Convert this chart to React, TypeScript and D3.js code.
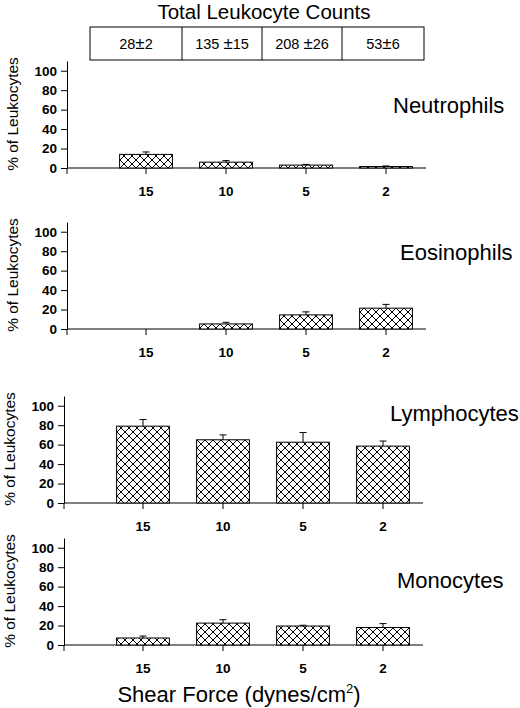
import React, { useEffect, useRef } from 'react';
import * as d3 from 'd3';

const shearForces = ['15', '10', '5', '2'];
const totalCounts = ['28', '135', '208', '53'];
const totalCountErrors = ['2', '15', '26', '6'];

const neutrophils = [14, 6, 3, 1.5];
const neutrophilErrors = [2.5, 1.6, 0.7, 0.6];
const eosinophils = [0, 5.2, 14.5, 21.4];
const eosinophilErrors = [0, 1.7, 3.1, 3.9];
const lymphocytes = [79, 65, 62.5, 58.5];
const lymphocyteErrors = [6.8, 5, 10, 5.2];
const monocytes = [7.2, 22.5, 19.5, 18];
const monocyteErrors = [2, 3.5, 0.8, 4];

const yTicks = [0, 20, 40, 60, 80, 100];

const FONT = '"Liberation Sans", Arial, Helvetica, sans-serif';

const App: React.FC = () => {
  const ref = useRef<SVGSVGElement | null>(null);

  useEffect(() => {
    const svg = d3.select(ref.current);
    svg.selectAll('*').remove();

    const width = 520;
    const height = 708;
    svg.attr('width', width).attr('height', height);

    // cross hatch used by all bars
    const pattern = svg
      .append('defs')
      .append('pattern')
      .attr('id', 'xhatch')
      .attr('patternUnits', 'userSpaceOnUse')
      .attr('width', 8)
      .attr('height', 8);
    pattern.append('rect').attr('width', 8).attr('height', 8).attr('fill', '#fff');
    pattern
      .append('path')
      .attr('d', 'M0,0L8,8M8,0L0,8')
      .attr('stroke', '#000')
      .attr('stroke-width', 1);

    const axisX = 67;
    const x = d3
      .scaleBand()
      .domain(shearForces)
      .range([106, 426])
      .paddingInner(0.34)
      .paddingOuter(0.17);
    const centre = (d: string) => (x(d) || 0) + x.bandwidth() / 2;

    // title + table of total counts
    svg
      .append('text')
      .attr('x', 264)
      .attr('y', 19)
      .attr('text-anchor', 'middle')
      .attr('font-family', FONT)
      .attr('font-size', 20.5)
      .text('Total Leukocyte Counts');

    const edges = [
      x.range()[0] - 16,
      ...shearForces.slice(1).map((d, i) => (centre(shearForces[i]) + centre(d)) / 2 - 4),
      x.range()[1] - 2,
    ];
    const table = svg.append('g');
    table
      .append('rect')
      .attr('x', edges[0])
      .attr('y', 27)
      .attr('width', edges[edges.length - 1] - edges[0])
      .attr('height', 33)
      .attr('fill', 'none')
      .attr('stroke', '#000');
    edges.slice(1, -1).forEach((e) => {
      table.append('line').attr('x1', e).attr('x2', e).attr('y1', 27).attr('y2', 60).attr('stroke', '#000');
    });
    totalCounts.forEach((c, i) => {
      const t = table
        .append('text')
        .attr('x', (edges[i] + edges[i + 1]) / 2)
        .attr('y', 49)
        .attr('text-anchor', 'middle')
        .attr('font-family', FONT)
        .attr('font-size', 14.5);
      t.append('tspan').text(`${c}${c.length > 2 ? ' ' : ''}`);
      t.append('tspan').attr('font-size', 17).text('±');
      t.append('tspan').text(totalCountErrors[i]);
    });

    const panels = [
      { name: 'Neutrophils', values: neutrophils, errors: neutrophilErrors, zeroY: 168, dx: 0, labelX: 393, labelY: 113 },
      { name: 'Eosinophils', values: eosinophils, errors: eosinophilErrors, zeroY: 329, dx: 0, labelX: 400, labelY: 260 },
      { name: 'Lymphocytes', values: lymphocytes, errors: lymphocyteErrors, zeroY: 503, dx: -3, labelX: 390, labelY: 421 },
      { name: 'Monocytes', values: monocytes, errors: monocyteErrors, zeroY: 645, dx: -3, labelX: 397, labelY: 588 },
    ];

    panels.forEach((p) => {
      const g = svg.append('g').attr('transform', `translate(${p.dx},0)`);
      const y = d3.scaleLinear().domain([0, 110]).range([p.zeroY, p.zeroY - 107]);

      // y axis
      const yAxis = g
        .append('g')
        .attr('transform', `translate(${axisX},0)`)
        .call(d3.axisLeft(y).tickValues(yTicks).tickSizeInner(6).tickSizeOuter(0).tickPadding(4));
      yAxis.selectAll('text').attr('font-family', FONT).attr('font-size', 13.5).attr('font-weight', 'bold').attr('fill', '#000');
      yAxis.selectAll('line, path').attr('stroke', '#000');
      g.append('line')
        .attr('x1', axisX)
        .attr('x2', axisX)
        .attr('y1', p.zeroY)
        .attr('y2', p.zeroY + 6)
        .attr('stroke', '#000');

      // x axis
      g.append('line')
        .attr('x1', axisX)
        .attr('x2', x.range()[1])
        .attr('y1', p.zeroY)
        .attr('y2', p.zeroY)
        .attr('stroke', '#000');
      const xAxis = g
        .append('g')
        .attr('transform', `translate(0,${p.zeroY})`)
        .call(d3.axisBottom(x).tickSizeInner(6).tickSizeOuter(0).tickPadding(12));
      xAxis.select('.domain').remove();
      xAxis.selectAll('text').attr('font-family', FONT).attr('font-size', 13.5).attr('font-weight', 'bold').attr('fill', '#000');
      xAxis.selectAll('line').attr('stroke', '#000');

      // bars
      const data = shearForces.map((s, i) => ({ s, v: p.values[i], e: p.errors[i] })).filter((d) => d.v > 0);
      g.selectAll('rect.bar')
        .data(data)
        .enter()
        .append('rect')
        .attr('class', 'bar')
        .attr('x', (d) => x(d.s) || 0)
        .attr('y', (d) => y(d.v))
        .attr('width', x.bandwidth())
        .attr('height', (d) => p.zeroY - y(d.v))
        .attr('fill', 'url(#xhatch)')
        .attr('stroke', '#000')
        .attr('stroke-width', 1);

      // error bars (upper only)
      const err = g.selectAll('g.err').data(data).enter().append('g').attr('class', 'err');
      err
        .append('line')
        .attr('x1', (d) => centre(d.s))
        .attr('x2', (d) => centre(d.s))
        .attr('y1', (d) => y(d.v))
        .attr('y2', (d) => y(d.v + d.e))
        .attr('stroke', '#000');
      err
        .append('line')
        .attr('x1', (d) => centre(d.s) - 3.5)
        .attr('x2', (d) => centre(d.s) + 3.5)
        .attr('y1', (d) => y(d.v + d.e))
        .attr('y2', (d) => y(d.v + d.e))
        .attr('stroke', '#000');

      // y label
      g.append('text')
        .attr('transform', `translate(18,${p.zeroY - 54}) rotate(-90)`)
        .attr('text-anchor', 'middle')
        .attr('font-family', FONT)
        .attr('font-size', 15.5)
        .text('% of Leukocytes');

      // panel name
      svg
        .append('text')
        .attr('x', p.labelX)
        .attr('y', p.labelY)
        .attr('font-family', FONT)
        .attr('font-size', 22)
        .text(p.name);
    });

    const xLabel = svg
      .append('text')
      .attr('x', 239)
      .attr('y', 702)
      .attr('text-anchor', 'middle')
      .attr('font-family', FONT)
      .attr('font-size', 22);
    xLabel.append('tspan').text('Shear Force (dynes/cm');
    xLabel.append('tspan').attr('dy', -9).attr('font-size', 13).text('2');
    xLabel.append('tspan').attr('dy', 9).text(')');
  }, []);

  return <svg ref={ref} style={{ position: 'absolute', left: 0, top: 0, background: '#fff' }} />;
};

export default App;
